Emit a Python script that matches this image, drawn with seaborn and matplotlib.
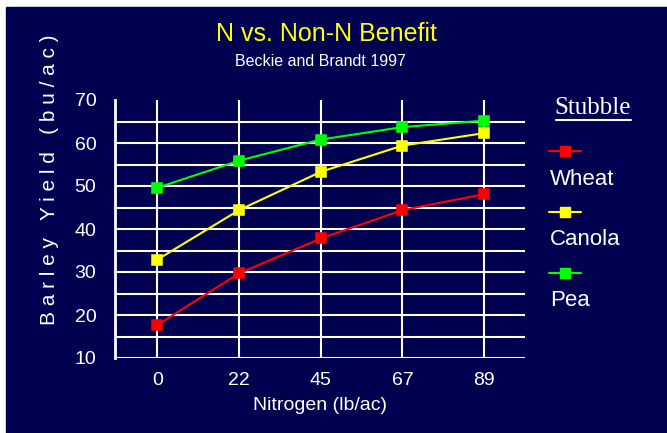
import matplotlib
matplotlib.use('Agg')

import numpy as np
import pandas as pd
import matplotlib.pyplot as plt
from matplotlib.lines import Line2D
from matplotlib.patches import Rectangle
import seaborn as sns

# Data
nitrogen = ['0', '22', '45', '67', '89']
stubble = ['Wheat', 'Canola', 'Pea']
wheat = [17.7, 29.7, 37.8, 44.4, 48.1]
canola = [32.9, 44.4, 53.3, 59.4, 62.3]
pea = [49.6, 55.9, 60.8, 63.7, 65.2]
colors = ['#FF0000', '#FFFF00', '#00FF00']

navy = '#000050'

df = pd.DataFrame({
    'Nitrogen': nitrogen * 3,
    'Yield': wheat + canola + pea,
    'Stubble': np.repeat(stubble, len(nitrogen)),
})

sns.set_style('dark')
plt.rcParams['font.family'] = ['Liberation Sans', 'DejaVu Sans']

fig = plt.figure(figsize=(6.67, 4.33), dpi=100, facecolor='white')
fig.add_artist(Rectangle((6 / 667, 0), 661 / 667, 426 / 433,
                         transform=fig.transFigure, color=navy, zorder=-10))
ax = fig.add_axes([115 / 667, 1 - 358 / 433, 410 / 667, 258 / 433])
ax.set_facecolor(navy)

sns.pointplot(data=df, x='Nitrogen', y='Yield', hue='Stubble',
              order=nitrogen, hue_order=stubble, palette=colors,
              markers='s', linestyles='-', errorbar=None,
              markersize=7, linewidth=1.5, legend=False, ax=ax, zorder=3)

ax.set_xlim(-0.52, 4.5)
ax.set_ylim(10, 70)

# horizontal grid every 5, no line at the top
ax.hlines(np.arange(10, 70, 5), -0.52, 4.5, color='white', lw=1.5, zorder=1)
ax.grid(axis='x', color='white', lw=1.5)
ax.grid(axis='y', visible=False)
ax.set_axisbelow(True)

for s in ['top', 'right', 'bottom']:
    ax.spines[s].set_visible(False)
ax.spines['left'].set_color('white')
ax.spines['left'].set_linewidth(2)

ax.set_yticks(np.arange(10, 71, 10))
ax.set_yticks(np.arange(15, 70, 10), minor=True)
ax.tick_params(axis='y', which='major', direction='inout', length=17, width=1.5,
               color='white', labelcolor='white', labelsize=14, pad=5)
ax.tick_params(axis='y', which='minor', direction='inout', length=14, width=1.5,
               color='white')
ax.tick_params(axis='x', length=0, labelcolor='white', labelsize=14, pad=10)

ax.set_xlabel('Nitrogen (lb/ac)', color='white', fontsize=14, labelpad=6)
ax.set_ylabel('')

fig.text(50 / 667, 1 - 180 / 433, 'B a r l e y   Y i e l d   ( b u / a c )',
         rotation=90, color='white', fontsize=15, ha='center', va='center')

fig.text(326 / 667, 1 - 34 / 433, 'N vs. Non-N Benefit', color='#FFFF00',
         fontsize=18, ha='center', va='center')
fig.text(320 / 667, 1 - 61 / 433, 'Beckie and Brandt 1997', color='white',
         fontsize=11.5, ha='center', va='center')

# legend drawn by hand: handle above each label
fig.text(593 / 667, 1 - 108 / 433, 'Stubble', color='white', fontsize=18,
         family='Liberation Serif', ha='center', va='center')
fig.add_artist(Line2D([556 / 667, 631 / 667], [1 - 120 / 433, 1 - 120 / 433],
                      color='white', lw=1.5, transform=fig.transFigure))
for i, (name, c) in enumerate(zip(stubble, colors)):
    yh = 1 - (151 + i * 61) / 433
    yt = 1 - (179 + i * 61) / 433
    fig.add_artist(Line2D([549 / 667, 565 / 667, 581 / 667], [yh, yh, yh],
                          color=c, lw=1.5, marker='s', markevery=[1], ms=7,
                          transform=fig.transFigure))
    fig.text(550 / 667, yt, name, color='white', fontsize=16, ha='left',
             va='center')

fig.savefig('out.png', dpi=100, facecolor=fig.get_facecolor())
